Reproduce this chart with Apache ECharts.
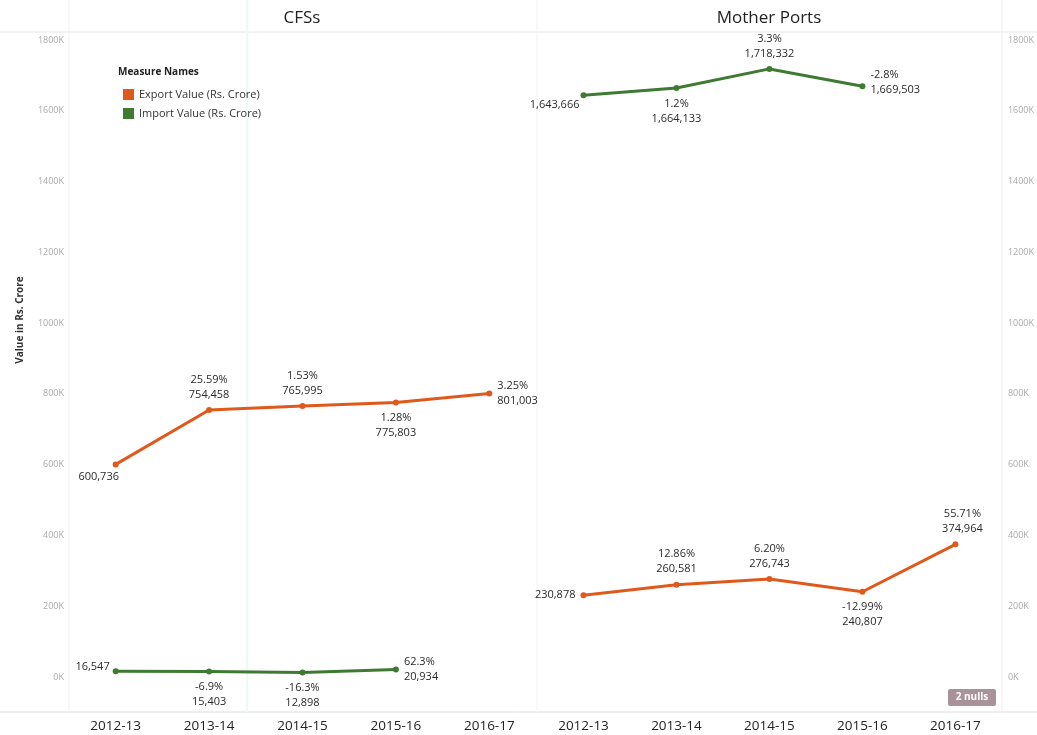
<!DOCTYPE html>
<html>
<head>
<meta charset="utf-8">
<script src="https://cdn.jsdelivr.net/npm/echarts@6/dist/echarts.min.js"></script>
<style>html,body{margin:0;padding:0;background:#fff;}#c{width:1037px;height:735px;}</style>
</head>
<body>
<div id="c"></div>
<script>
var years = ['2012-13', '2013-14', '2014-15', '2015-16', '2016-17'];
var yTicks = [0, 200000, 400000, 600000, 800000, 1000000, 1200000, 1400000, 1600000, 1800000];

var cfsExport = [600736, 754458, 765995, 775803, 801003];
var cfsExportPct = ['', '25.59%', '1.53%', '1.28%', '3.25%'];
var cfsExportLabelPos = ['bottomleft', 'top', 'top', 'bottom', 'right'];

var cfsImport = [16547, 15403, 12898, 20934, null];
var cfsImportPct = ['', '-6.9%', '-16.3%', '62.3%', ''];
var cfsImportLabelPos = ['leftup', 'bottom', 'bottom', 'right', 'none'];

var mpExport = [230878, 260581, 276743, 240807, 374964];
var mpExportPct = ['', '12.86%', '6.20%', '-12.99%', '55.71%'];
var mpExportLabelPos = ['left', 'top', 'top', 'bottom', 'topright'];

var mpImport = [1643666, 1664133, 1718332, 1669503, null];
var mpImportPct = ['', '1.2%', '3.3%', '-2.8%', ''];
var mpImportLabelPos = ['leftdown', 'bottom', 'top', 'rightup', 'none'];

var ORANGE = '#E0591C', GREEN = '#3F7A33';
var FONT = '"Open Sans", "Noto Sans", sans-serif';

function fmt(v) { return v.toLocaleString('en-US'); }

function placement(p) {
  switch (p) {
    case 'bottomleft': return { position: 'bottom', offset: [-17, -3] };
    case 'leftup': return { position: 'left', offset: [2, -4] };
    case 'leftdown': return { position: 'left', offset: [4, 10] };
    case 'rightup': return { position: 'right', offset: [0, -4] };
    case 'topright': return { position: 'top', offset: [7, 0] };
    default: return { position: p, offset: [0, 0] };
  }
}

function buildData(vals, pcts, pos) {
  return vals.map(function (v, i) {
    if (v === null) return null;
    var pl = placement(pos[i]);
    var txt = pcts[i] ? pcts[i] + '\n' + fmt(v) : fmt(v);
    return {
      value: v,
      label: { show: true, position: pl.position, offset: pl.offset, formatter: txt, distance: 5 }
    };
  });
}

var chart = echarts.init(document.getElementById('c'));

var yAxisBase = {
  type: 'value', min: 0, max: 1800000, interval: 200000,
  axisLine: { show: false }, axisTick: { show: false },
  splitLine: { show: false },
  axisLabel: { fontSize: 9, color: '#aaaaaa', fontFamily: FONT,
    formatter: function (v) { return (v / 1000) + 'K'; } }
};
var xAxisBase = {
  type: 'category', data: years, offset: 35,
  axisLine: { show: false }, axisTick: { show: false },
  axisLabel: { fontSize: 13.5, color: '#222', margin: 7, fontFamily: FONT }
};

function lineSeries(name, color, xi, data) {
  return {
    name: name, type: 'line', xAxisIndex: xi, yAxisIndex: xi, data: data,
    symbol: 'circle', symbolSize: 6, showSymbol: true,
    lineStyle: { color: color, width: 3 }, itemStyle: { color: color },
    label: { color: '#2a2a2a', fontSize: 11, lineHeight: 15, fontFamily: FONT },
    connectNulls: false, z: 3
  };
}

var option = {
  animation: false,
  backgroundColor: '#fff',
  textStyle: { fontFamily: FONT },
  grid: [
    { left: 69, width: 467, top: 40, height: 637 },
    { left: 537, width: 465, top: 40, height: 637 }
  ],
  xAxis: [
    Object.assign({ gridIndex: 0 }, xAxisBase),
    Object.assign({ gridIndex: 1 }, xAxisBase)
  ],
  yAxis: [
    Object.assign({ gridIndex: 0, position: 'left' }, yAxisBase, { axisLabel: Object.assign({}, yAxisBase.axisLabel, { margin: 5 }) }),
    Object.assign({ gridIndex: 1, position: 'right' }, yAxisBase, { axisLabel: Object.assign({}, yAxisBase.axisLabel, { margin: 6 }) })
  ],
  legend: {
    orient: 'vertical', left: 118, top: 84, itemWidth: 11, itemHeight: 11, itemGap: 8,
    icon: 'rect', selectedMode: false,
    textStyle: { fontSize: 11, color: '#333', fontFamily: FONT },
    data: [
      { name: 'Export Value (Rs. Crore)', itemStyle: { color: ORANGE } },
      { name: 'Import Value (Rs. Crore)', itemStyle: { color: GREEN } }
    ]
  },
  series: [
    lineSeries('Export Value (Rs. Crore)', ORANGE, 0, buildData(cfsExport, cfsExportPct, cfsExportLabelPos)),
    lineSeries('Import Value (Rs. Crore)', GREEN, 0, buildData(cfsImport, cfsImportPct, cfsImportLabelPos)),
    lineSeries('Export Value (Rs. Crore)', ORANGE, 1, buildData(mpExport, mpExportPct, mpExportLabelPos)),
    lineSeries('Import Value (Rs. Crore)', GREEN, 1, buildData(mpImport, mpImportPct, mpImportLabelPos))
  ],
  graphic: [
    { type: 'line', shape: { x1: 0, y1: 32, x2: 1037, y2: 32 }, style: { stroke: '#e6e6e6', lineWidth: 1 }, silent: true },
    { type: 'line', shape: { x1: 0, y1: 712, x2: 1037, y2: 712 }, style: { stroke: '#dddddd', lineWidth: 1 }, silent: true },
    { type: 'line', shape: { x1: 69, y1: 0, x2: 69, y2: 712 }, style: { stroke: '#f0f0f0', lineWidth: 1 }, silent: true },
    { type: 'line', shape: { x1: 247, y1: 0, x2: 247, y2: 712 }, style: { stroke: '#eef8f6', lineWidth: 2 }, silent: true },
    { type: 'line', shape: { x1: 537, y1: 0, x2: 537, y2: 712 }, style: { stroke: '#f2f2f2', lineWidth: 1 }, silent: true },
    { type: 'line', shape: { x1: 1002, y1: 0, x2: 1002, y2: 712 }, style: { stroke: '#f0f0f0', lineWidth: 1 }, silent: true },
    { type: 'text', x: 302, y: 18, style: { text: 'CFSs', fontSize: 17, fill: '#222', fontFamily: FONT, textAlign: 'center', textVerticalAlign: 'middle' } },
    { type: 'text', x: 769, y: 18, style: { text: 'Mother Ports', fontSize: 17, fill: '#222', fontFamily: FONT, textAlign: 'center', textVerticalAlign: 'middle' } },
    { type: 'text', x: 118, y: 72, style: { text: 'Measure Names', fontSize: 10, fontWeight: 'bold', fill: '#222', fontFamily: FONT, textVerticalAlign: 'middle' } },
    { type: 'text', x: 20, y: 320, rotation: Math.PI / 2, style: { text: 'Value in Rs. Crore', fontSize: 10, fontWeight: 'bold', fill: '#333', fontFamily: FONT, textAlign: 'center', textVerticalAlign: 'middle' } },
    { type: 'rect', shape: { x: 948, y: 689, width: 48, height: 17, r: 2 }, style: { fill: '#a9939b' } },
    { type: 'text', x: 972, y: 697.5, style: { text: '2 nulls', fontSize: 10, fontWeight: 'bold', fill: '#fff', fontFamily: FONT, textAlign: 'center', textVerticalAlign: 'middle' } }
  ]
};
chart.setOption(option);
</script>
</body>
</html>
